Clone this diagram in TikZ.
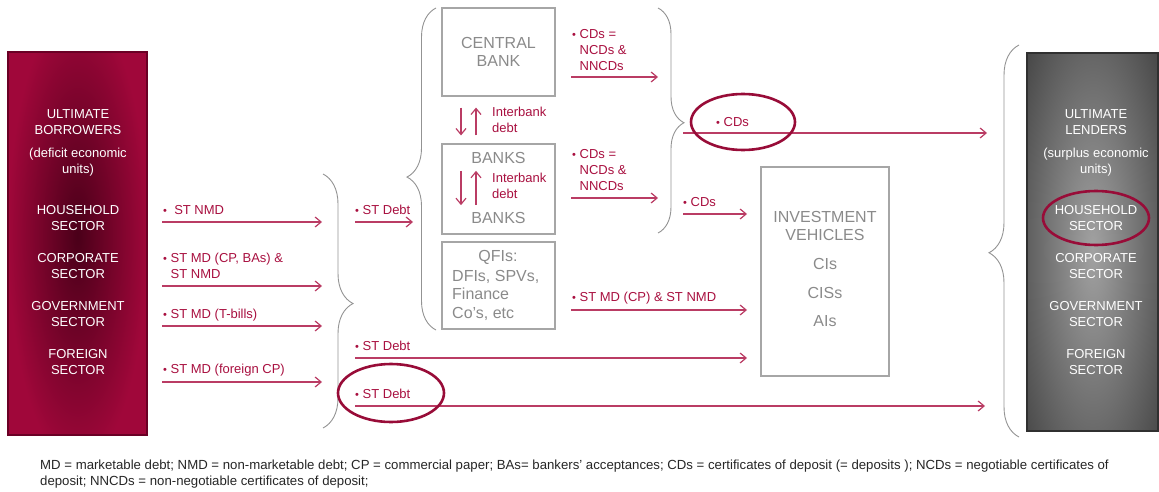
\documentclass[tikz,border=0pt]{standalone}
\usepackage{fontspec}
\setmainfont{Liberation Sans}
\usetikzlibrary{arrows.meta,positioning,calc,decorations.pathreplacing}

\definecolor{crimson}{HTML}{A0073A}
\definecolor{crimsondark}{HTML}{4A0019}
\definecolor{crimsonedge}{HTML}{6A0025}
\definecolor{lblred}{HTML}{A80F3F}
\definecolor{arrred}{HTML}{BA3C64}
\definecolor{hlred}{HTML}{980C38}
\definecolor{boxgray}{HTML}{A6A6A6}
\definecolor{txtgray}{HTML}{8A8A8A}
\definecolor{slate}{HTML}{3C3C3C}
\definecolor{slatelight}{HTML}{A2A2A2}

\newcommand{\bul}{{\fontsize{11}{11}\selectfont\textbullet}\ }

\begin{document}
\begin{tikzpicture}[x=1pt, y=-1pt,
    box/.style={draw=boxgray, line width=1.2pt, text=txtgray, font=\fontsize{16}{18.5}\selectfont, align=center},
    gtxt/.style={text=txtgray, font=\fontsize{16}{18.5}\selectfont, align=center, inner sep=0pt},
    sect/.style={text=white, font=\fontsize{13}{16}\selectfont, align=center},
    lbl/.style={text=lblred, font=\fontsize{13}{16}\selectfont, align=left, anchor=west, inner sep=0pt},
    arr/.style={draw=arrred, line width=1.2pt, -{Straight Barb[length=6pt, width=10pt]}},
    hl/.style={draw=hlred, line width=2.6pt},
    brc/.style={draw=gray!85, line width=0.9pt, decorate},
  ]
  \useasboundingbox (0,0) rectangle (1159,492);

  % sector columns
  \node[minimum width=139pt, minimum height=383pt, fill=crimson, draw=crimsonedge, line width=2.5pt,
        path picture={\shade[inner color=crimsondark, outer color=crimson]
          ($(path picture bounding box.center)+(0,-8)$) ellipse (70 and 230);}] (borrowers) at (77.5,243.5) {};
  \node[minimum width=131pt, minimum height=378pt, fill=slate, draw=slate!80!black, line width=2pt,
        path picture={\shade[inner color=slatelight, outer color=slate]
          ($(path picture bounding box.center)+(0,8)$) ellipse (100 and 330);}] (lenders) at (1092.5,242) {};

  \node[sect] (ubor) at (78,122) {ULTIMATE\\BORROWERS};
  \node[sect] (deficit) at (78,162) {(deficit economic\\units)};
  \node[sect] (hhl) at (78,218) {HOUSEHOLD\\SECTOR};
  \node[sect] (corpl) at (78,266) {CORPORATE\\SECTOR};
  \node[sect] (govl) at (78,314) {GOVERNMENT\\SECTOR};
  \node[sect] (forl) at (78,362) {FOREIGN\\SECTOR};

  \node[sect] (ulend) at (1096,122) {ULTIMATE\\LENDERS};
  \node[sect] (surplus) at (1096,162) {(surplus economic\\units)};
  \node[sect] (hhr) at (1096,218) {HOUSEHOLD\\SECTOR};
  \node[sect] (corpr) at (1096,266) {CORPORATE\\SECTOR};
  \node[sect] (govr) at (1096,314) {GOVERNMENT\\SECTOR};
  \node[sect] (forr) at (1096,362) {FOREIGN\\SECTOR};

  % institutions
  \node[box, minimum width=113pt, minimum height=88pt] (cb) at (498.5,52) {CENTRAL\\BANK};
  \node[box, minimum width=113pt, minimum height=90pt] (banks) at (498.5,189) {};
  \node[gtxt] (bkup) at (498.5,158) {BANKS};
  \node[gtxt] (bkdn) at (498.5,218) {BANKS};
  \node[box, minimum width=113pt, minimum height=87pt] (qfi) at (498.5,285.5) {};
  \node[gtxt] (qfititle) at (498,257) {QFIs:};
  \node[gtxt, anchor=west, align=left] (qfitext) at (452,295) {DFIs, SPVs,\\Finance\\Co’s, etc};
  \node[box, minimum width=128pt, minimum height=209pt] (iv) at (825,271.5) {};
  \node[gtxt] (ivtitle) at (825,226) {INVESTMENT\\VEHICLES};
  \node[gtxt] (cis) at (825,264) {CIs};
  \node[gtxt] (ciss) at (825,293) {CISs};
  \node[gtxt] (ais) at (825,321) {AIs};

  % braces
  \draw[brc, decoration={brace, amplitude=30pt, aspect=0.51}] (323,174) -- (323,428);
  \draw[brc, decoration={brace, amplitude=29pt, aspect=0.475}] (436,330) -- (436,8);
  \draw[brc, decoration={brace, amplitude=26pt, aspect=0.51}] (658,8) -- (658,233);
  \draw[brc, decoration={brace, amplitude=30pt, aspect=0.47}] (1019,437) -- (1019,45);

  % labels
  \node[lbl] (lhh) at (163,210) {\bul\ ST NMD};
  \node[lbl] (lcorp) at (163,266) {\bul ST MD (CP, BAs) \&\\\phantom{\bul}ST NMD};
  \node[lbl] (lgov) at (163,315) {\bul ST MD (T-bills)};
  \node[lbl] (lfor) at (163,370) {\bul ST MD (foreign CP)};
  \node[lbl] (ldebt) at (355,210) {\bul ST Debt};
  \node[lbl] (ldebt2) at (355,346) {\bul ST Debt};
  \node[lbl] (ldebt3) at (355,394) {\bul ST Debt};
  \node[lbl] (lcb) at (572,50) {\bul CDs =\\\phantom{\bul}NCDs \&\\\phantom{\bul}NNCDs};
  \node[lbl] (lbk) at (572,170) {\bul CDs =\\\phantom{\bul}NCDs \&\\\phantom{\bul}NNCDs};
  \node[lbl] (lqfi) at (572,298) {\bul ST MD (CP) \& ST NMD};
  \node[lbl] (lcd) at (716,122) {\bul CDs};
  \node[lbl] (lcd2) at (683,202) {\bul CDs};
  \node[lbl] (lib) at (492,120) {Interbank\\debt};
  \node[lbl] (lib2) at (492,186) {Interbank\\debt};

  % arrow ends
  \coordinate (hhA) at (162,222);   \coordinate (hhB) at (322,222);
  \coordinate (corpA) at (162,286); \coordinate (corpB) at (322,286);
  \coordinate (govA) at (162,326);  \coordinate (govB) at (322,326);
  \coordinate (forA) at (162,382);  \coordinate (forB) at (322,382);
  \coordinate (debtA) at (355,222); \coordinate (debtB) at (413,222);
  \coordinate (debt2A) at (355,358); \coordinate (debt2B) at (747,358);
  \coordinate (debt3A) at (355,406); \coordinate (debt3B) at (985,406);
  \coordinate (cbA) at (571,77);    \coordinate (cbB) at (658,77);
  \coordinate (bkA) at (571,198);   \coordinate (bkB) at (658,198);
  \coordinate (qfiA) at (571,310);  \coordinate (qfiB) at (747,310);
  \coordinate (cdA) at (683,133);   \coordinate (cdB) at (987,133);
  \coordinate (cd2A) at (683,214);  \coordinate (cd2B) at (747,214);

  \draw[arr] (hhA) -- (hhB);
  \draw[arr] (corpA) -- (corpB);
  \draw[arr] (govA) -- (govB);
  \draw[arr] (forA) -- (forB);
  \draw[arr] (debtA) -- (debtB);
  \draw[arr] (debt2A) -- (debt2B);
  \draw[arr] (debt3A) -- (debt3B);
  \draw[arr] (cbA) -- (cbB);
  \draw[arr] (bkA) -- (bkB);
  \draw[arr] (qfiA) -- (qfiB);
  \draw[arr] (cdA) -- (cdB);
  \draw[arr] (cd2A) -- (cd2B);

  % interbank flows
  \draw[arr] ($(cb.south)+(-37.5,11)$) -- ($(banks.north)+(-37.5,-8)$);
  \draw[arr] ($(banks.north)+(-22.5,-8)$) -- ($(cb.south)+(-22.5,11)$);
  \draw[arr] ($(bkup.south)+(-37.5,7)$) -- ($(bkdn.north)+(-37.5,-7)$);
  \draw[arr] ($(bkdn.north)+(-22.5,-7)$) -- ($(bkup.south)+(-22.5,7)$);

  % highlights
  \draw[hl] (743,122) ellipse [x radius=52, y radius=28];
  \draw[hl] (391,393) ellipse [x radius=53, y radius=29];
  \draw[hl] (1096,218) ellipse [x radius=53, y radius=27];

  \node[anchor=west, align=left, inner sep=0pt, text=black!85, font=\fontsize{13.2}{16}\selectfont] (notes) at (40,474)
    {MD = marketable debt; NMD = non-marketable debt; CP = commercial paper; BAs= bankers’ acceptances; CDs = certificates of deposit (= deposits ); NCDs = negotiable certificates of\\
     deposit; NNCDs = non-negotiable certificates of deposit;};
\end{tikzpicture}
\end{document}
